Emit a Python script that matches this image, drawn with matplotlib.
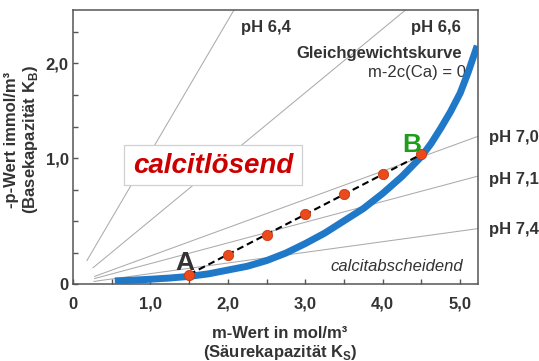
import numpy as np
import matplotlib
matplotlib.use("Agg")
import matplotlib.pyplot as plt
from matplotlib.patches import Rectangle

plt.rcParams["font.family"] = ["Liberation Sans", "DejaVu Sans"]
plt.rcParams["mathtext.fontset"] = "custom"
plt.rcParams["mathtext.rm"] = "Liberation Sans"
plt.rcParams["mathtext.bf"] = "Liberation Sans:bold"

# Equilibrium curve m-2c(Ca) = 0  (m-value vs. -p-value)
curve_m = [0.54, 0.75, 1.0, 1.25, 1.5, 1.75, 2.0, 2.25, 2.5, 2.75, 3.0,
           3.25, 3.5, 3.75, 4.0, 4.25, 4.5, 4.625, 4.75, 4.875, 5.0,
           5.1, 5.22]
curve_p = [-0.298, -0.291, -0.280, -0.267, -0.250, -0.223, -0.183, -0.143,
           -0.083, -0.003, 0.097, 0.207, 0.337, 0.467, 0.627, 0.807, 1.017,
           1.155, 1.317, 1.49, 1.687, 1.90, 2.187]

# Mixing path from A to B
path_m = [1.5, 2.0, 2.5, 3.0, 3.5, 4.0, 4.5]
path_p = [-0.23, -0.02, 0.19, 0.41, 0.62, 0.83, 1.04]

# pH isolines: straight lines through the origin of the diagram
ph_labels = ["pH 6,4", "pH 6,6", "pH 7,0", "pH 7,1", "pH 7,4"]
ph_slopes = [1.394, 0.675, 0.299, 0.2186, 0.1125]
ph_start_m = [0.18, 0.26, 0.28, 0.28, 0.27]

# Axis ticks
x_ticks = [0, 0.5, 1.0, 1.5, 2.0, 2.5, 3.0, 3.5, 4.0, 4.5, 5.0]
x_tick_labels = ["0", "", "1,0", "", "2,0", "", "3,0", "", "4,0", "", "5,0"]
p_origin = -1 / 3
y_ticks = [p_origin, 0, 1 / 3, 2 / 3, 1.0, 4 / 3, 5 / 3, 2.0, 7 / 3]
y_tick_labels = ["0", "", "", "", "1,0", "", "", "2,0", ""]

X_MAX = 5.23
Y_MAX = 2.565

TXT = "#333333"
AXC = "#555555"

fig = plt.figure(figsize=(5.39, 3.61), dpi=100)
ax = fig.add_axes([0.1354, 0.2125, 0.8868 - 0.1354, 0.9723 - 0.2125])
ax.set_xlim(0, X_MAX)
ax.set_ylim(p_origin, Y_MAX)

for s in ax.spines.values():
    s.set_color(AXC)
    s.set_linewidth(1.1)

ax.set_xticks(x_ticks)
ax.set_xticklabels(x_tick_labels)
ax.set_yticks(y_ticks)
ax.set_yticklabels(y_tick_labels)
ax.tick_params(axis="both", direction="in", length=3.5, width=1.0,
               color=AXC, labelcolor=TXT, labelsize=12)
ax.tick_params(axis="x", pad=9)
ax.tick_params(axis="y", pad=3)
for lab in ax.get_xticklabels() + ax.get_yticklabels():
    lab.set_fontweight("bold")

# pH isolines
for slope, m0 in zip(ph_slopes, ph_start_m):
    m = np.array([m0, X_MAX])
    ax.plot(m, p_origin + slope * m, color="#ababab", lw=0.75, zorder=1)

# Label box for the calcite-dissolving region
ax.add_patch(Rectangle((0.657, 0.716), 2.30, 0.421, facecolor="white",
                       edgecolor="#d0d0d0", lw=0.9, zorder=2))
ax.text(1.807, 0.915, "calcitlösend", color="#cc0000", fontsize=20,
        fontweight="bold", fontstyle="italic", ha="center", va="center",
        zorder=3)

# Equilibrium curve
ax.plot(curve_m, curve_p, color="#1f78c8", lw=5.0, solid_capstyle="butt",
        solid_joinstyle="round", zorder=4)

# Mixing path
ax.plot([path_m[0], path_m[-1]], [path_p[0], path_p[-1]], color="black",
        lw=1.5, dashes=(3.3, 1.9), zorder=5)
ax.plot(path_m, path_p, linestyle="none", marker="o", markersize=7.4,
        markerfacecolor="#ea4a1c", markeredgecolor="#c43a12",
        markeredgewidth=0.6, zorder=6)

ax.text(1.446, -0.179, "A", color=TXT, fontsize=19, fontweight="bold",
        ha="center", va="baseline", zorder=7)
ax.text(4.378, 1.064, "B", color="#1c9e1c", fontsize=19, fontweight="bold",
        ha="center", va="baseline", zorder=7)

# Line labels
ax.text(2.166, 2.335, ph_labels[0], color=TXT, fontsize=12,
        fontweight="bold", ha="left", va="baseline")
ax.text(5.01, 2.335, ph_labels[1], color=TXT, fontsize=12,
        fontweight="bold", ha="right", va="baseline")
for lab, yb in zip(ph_labels[2:], [1.17, 0.729, 0.199]):
    ax.text(5.37, yb, lab, color=TXT, fontsize=12, fontweight="bold",
            ha="left", va="baseline", clip_on=False)

ax.text(5.02, 2.053, "Gleichgewichtskurve", color=TXT, fontsize=12,
        fontweight="bold", ha="right", va="baseline")
ax.text(5.07, 1.852, "m-2c(Ca) = 0", color=TXT, fontsize=12,
        ha="right", va="baseline")
ax.text(5.04, -0.19, "calcitabscheidend", color=TXT, fontsize=12,
        fontstyle="italic", ha="right", va="baseline")

# Axis titles
ax.text(0.511, -0.219, "m-Wert in mol/m³\n(Säurekapazität K$_\\mathbf{S}$)",
        transform=ax.transAxes, color=TXT, fontsize=12, fontweight="bold",
        ha="center", va="center", linespacing=1.15)
ax.text(-0.125, 0.528, "-p-Wert immol/m³\n(Basekapazität K$_\\mathbf{B}$)",
        transform=ax.transAxes, color=TXT, fontsize=12, fontweight="bold",
        ha="center", va="center", rotation=90, linespacing=1.15)

fig.savefig("out.png", dpi=100)
